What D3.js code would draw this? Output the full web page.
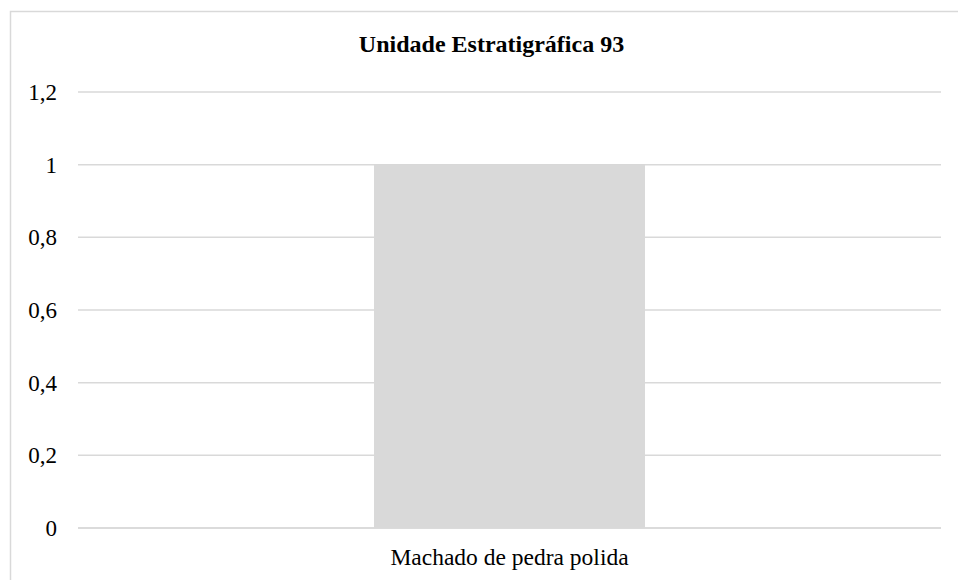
<!DOCTYPE html>
<html>
<head>
<meta charset="utf-8">
<script src="https://cdn.jsdelivr.net/npm/d3@7"></script>
<style>
  body { margin: 0; background: #fff; }
  text { font-family: "Liberation Serif", "Times New Roman", serif; fill: #000; }
</style>
</head>
<body>
<div id="chart"></div>
<script>
var categories = ["Machado de pedra polida"];
var values = [1];
var yTicks = [0, 0.2, 0.4, 0.6, 0.8, 1, 1.2];
var title = "Unidade Estratigráfica 93";

var W = 958, H = 580;
var margin = {top: 92, right: 17, bottom: 52, left: 78};
var width = W - margin.left - margin.right,
    height = H - margin.top - margin.bottom;

var svg = d3.select("#chart").append("svg")
    .attr("width", W)
    .attr("height", H);

// outer frame (runs off the right and bottom)
svg.append("rect")
    .attr("x", 10.5).attr("y", 11.5)
    .attr("width", 970).attr("height", 600)
    .attr("fill", "none")
    .attr("stroke", "#d9d9d9")
    .attr("stroke-width", 1.5);

svg.append("text")
    .attr("x", 491.5).attr("y", 52)
    .attr("text-anchor", "middle")
    .style("font-size", "24px")
    .style("font-weight", "bold")
    .text(title);

var g = svg.append("g")
    .attr("transform", "translate(" + margin.left + "," + margin.top + ")");

var x = d3.scaleBand().domain(categories).range([0, width]).padding(0.522);
var y = d3.scaleLinear().domain([0, 1.2]).range([height, 0]);

var fmt = function(d){ return d3.format("")(d).replace(".", ","); };

// gridlines
g.selectAll(".grid")
    .data(yTicks)
    .enter().append("line")
    .attr("x1", 0).attr("x2", width)
    .attr("y1", function(d){ return y(d); })
    .attr("y2", function(d){ return y(d); })
    .attr("stroke", "#d9d9d9")
    .attr("stroke-width", 1.5);

g.selectAll(".bar")
    .data(values)
    .enter().append("rect")
    .attr("x", function(d, i){ return x(categories[i]); })
    .attr("width", x.bandwidth())
    .attr("y", function(d){ return y(d); })
    .attr("height", function(d){ return height - y(d); })
    .attr("fill", "#d9d9d9");

// redraw baseline on top of the bar
g.append("line")
    .attr("x1", 0).attr("x2", width)
    .attr("y1", y(0)).attr("y2", y(0))
    .attr("stroke", "#d9d9d9")
    .attr("stroke-width", 1.5);

var yAxis = g.append("g")
    .call(d3.axisLeft(y).tickValues(yTicks).tickFormat(fmt).tickSize(0).tickPadding(21));
yAxis.select(".domain").remove();
yAxis.attr("font-family", null).attr("font-size", null);
yAxis.selectAll("text").style("font-size", "23px");

var xAxis = g.append("g")
    .attr("transform", "translate(0," + height + ")")
    .call(d3.axisBottom(x).tickSize(0));
xAxis.select(".domain").remove();
xAxis.attr("font-family", null).attr("font-size", null);
xAxis.selectAll("text").style("font-size", "23.5px").attr("y", 37).attr("dy", 0);
</script>
</body>
</html>
